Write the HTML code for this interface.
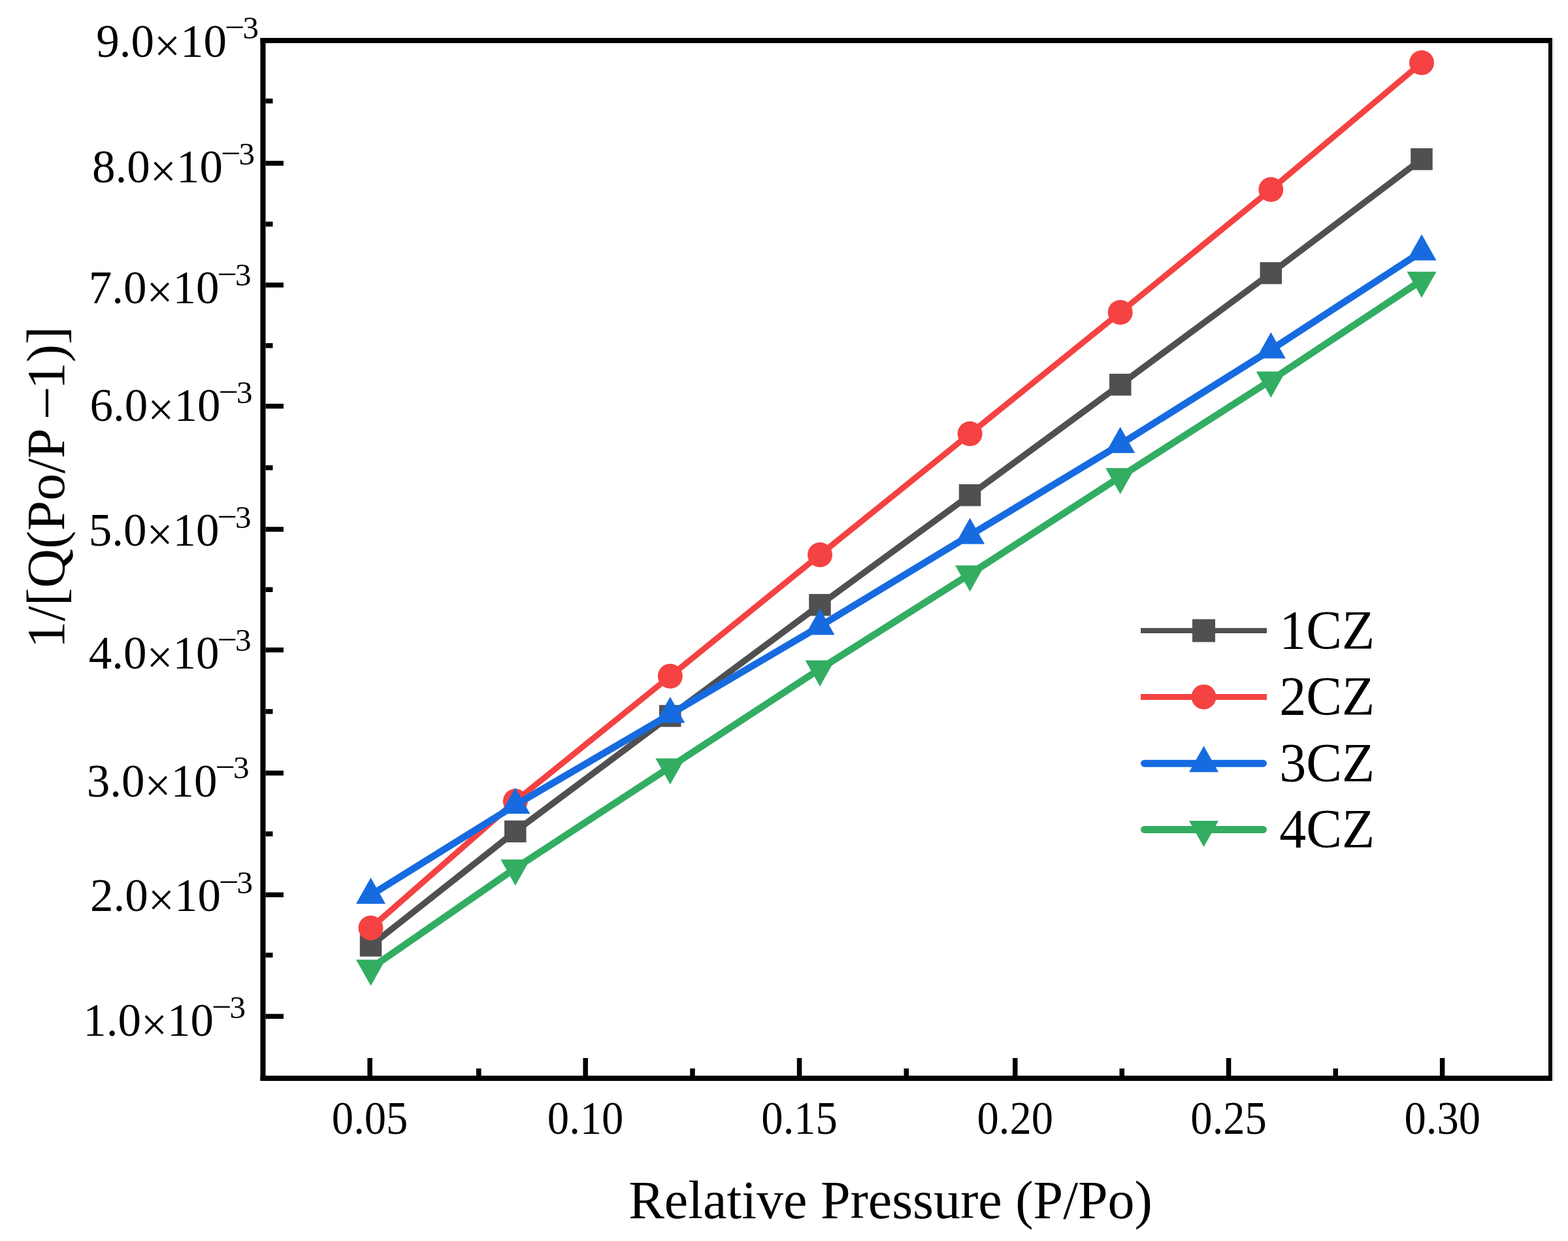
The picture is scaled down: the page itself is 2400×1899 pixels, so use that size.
<!DOCTYPE html><html><head><meta charset="utf-8"><title>BET plot</title><style>html,body{margin:0;padding:0;background:#fff}svg{display:block}text{font-family:"Liberation Serif","Times New Roman",serif;fill:#000}</style></head><body>
<svg width="2400" height="1899" viewBox="0 0 2400 1899">
<rect width="2400" height="1899" fill="#ffffff"/>
<rect x="398.5" y="58" width="1977.5" height="8" fill="#000"/>
<rect x="398.5" y="1646" width="1977.5" height="8" fill="#000"/>
<rect x="398.5" y="58" width="8" height="1596" fill="#000"/>
<rect x="2370" y="58" width="6" height="1596" fill="#000"/>
<rect x="2377" y="58" width="1.6" height="1596" fill="#dddddd"/>
<rect x="562.4" y="1619.0" width="7.5" height="27" fill="#000"/>
<rect x="892.4" y="1619.0" width="7.5" height="27" fill="#000"/>
<rect x="1219.8" y="1619.0" width="7.5" height="27" fill="#000"/>
<rect x="1550.0" y="1619.0" width="7.5" height="27" fill="#000"/>
<rect x="1876.8" y="1619.0" width="7.5" height="27" fill="#000"/>
<rect x="2203.9" y="1619.0" width="7.5" height="27" fill="#000"/>
<rect x="729.0" y="1635.0" width="7.5" height="11" fill="#000"/>
<rect x="1056.2" y="1635.0" width="7.5" height="11" fill="#000"/>
<rect x="1383.5" y="1635.0" width="7.5" height="11" fill="#000"/>
<rect x="1713.5" y="1635.0" width="7.5" height="11" fill="#000"/>
<rect x="2040.5" y="1635.0" width="7.5" height="11" fill="#000"/>
<rect x="406.5" y="246.1" width="27.5" height="7.5" fill="#000"/>
<rect x="406.5" y="432.4" width="27.5" height="7.5" fill="#000"/>
<rect x="406.5" y="617.8" width="27.5" height="7.5" fill="#000"/>
<rect x="406.5" y="806.2" width="27.5" height="7.5" fill="#000"/>
<rect x="406.5" y="990.8" width="27.5" height="7.5" fill="#000"/>
<rect x="406.5" y="1179.2" width="27.5" height="7.5" fill="#000"/>
<rect x="406.5" y="1365.5" width="27.5" height="7.5" fill="#000"/>
<rect x="406.5" y="1551.5" width="27.5" height="7.5" fill="#000"/>
<rect x="406.5" y="150.8" width="11" height="7.5" fill="#000"/>
<rect x="406.5" y="339.2" width="11" height="7.5" fill="#000"/>
<rect x="406.5" y="525.1" width="11" height="7.5" fill="#000"/>
<rect x="406.5" y="712.0" width="11" height="7.5" fill="#000"/>
<rect x="406.5" y="898.5" width="11" height="7.5" fill="#000"/>
<rect x="406.5" y="1085.0" width="11" height="7.5" fill="#000"/>
<rect x="406.5" y="1272.3" width="11" height="7.5" fill="#000"/>
<rect x="406.5" y="1457.8" width="11" height="7.5" fill="#000"/>
<polyline points="567.5,1447.0 788.8,1272.2 1025.8,1095.5 1255.0,925.6 1484.6,757.7 1714.7,588.6 1945.3,418.0 2176.0,243.6" fill="none" stroke="#505050" stroke-width="9.6" stroke-linejoin="round" stroke-linecap="round"/>
<rect x="550.8" y="1430.2" width="33.5" height="33.5" fill="#505050"/>
<rect x="772.0" y="1255.5" width="33.5" height="33.5" fill="#505050"/>
<rect x="1009.0" y="1078.8" width="33.5" height="33.5" fill="#505050"/>
<rect x="1238.2" y="908.9" width="33.5" height="33.5" fill="#505050"/>
<rect x="1467.8" y="741.0" width="33.5" height="33.5" fill="#505050"/>
<rect x="1698.0" y="571.9" width="33.5" height="33.5" fill="#505050"/>
<rect x="1928.5" y="401.2" width="33.5" height="33.5" fill="#505050"/>
<rect x="2159.2" y="226.8" width="33.5" height="33.5" fill="#505050"/>
<polyline points="567.5,1420.0 788.8,1226.0 1025.8,1034.7 1255.0,849.0 1484.6,663.8 1714.7,478.0 1945.3,290.0 2176.0,96.0" fill="none" stroke="#f54242" stroke-width="9.0" stroke-linejoin="round" stroke-linecap="round"/>
<circle cx="567.5" cy="1420.0" r="19" fill="#f54242"/>
<circle cx="788.8" cy="1226.0" r="19" fill="#f54242"/>
<circle cx="1025.8" cy="1034.7" r="19" fill="#f54242"/>
<circle cx="1255.0" cy="849.0" r="19" fill="#f54242"/>
<circle cx="1484.6" cy="663.8" r="19" fill="#f54242"/>
<circle cx="1714.7" cy="478.0" r="19" fill="#f54242"/>
<circle cx="1945.3" cy="290.0" r="19" fill="#f54242"/>
<circle cx="2176.0" cy="96.0" r="19" fill="#f54242"/>
<polyline points="567.5,1369.7 788.8,1231.9 1025.8,1093.0 1255.0,958.2 1484.6,819.1 1714.7,679.9 1945.3,535.2 2176.0,385.2" fill="none" stroke="#166be0" stroke-width="10.5" stroke-linejoin="round" stroke-linecap="round"/>
<polygon points="567.5,1343.0 590.0,1383.0 545.0,1383.0" fill="#166be0"/>
<polygon points="788.8,1205.2 811.3,1245.2 766.3,1245.2" fill="#166be0"/>
<polygon points="1025.8,1066.3 1048.3,1106.3 1003.3,1106.3" fill="#166be0"/>
<polygon points="1255.0,931.5 1277.5,971.5 1232.5,971.5" fill="#166be0"/>
<polygon points="1484.6,792.4 1507.1,832.4 1462.1,832.4" fill="#166be0"/>
<polygon points="1714.7,653.2 1737.2,693.2 1692.2,693.2" fill="#166be0"/>
<polygon points="1945.3,508.5 1967.8,548.5 1922.8,548.5" fill="#166be0"/>
<polygon points="2176.0,358.5 2198.5,398.5 2153.5,398.5" fill="#166be0"/>
<polyline points="567.5,1481.7 788.8,1328.6 1025.8,1173.7 1255.0,1023.7 1484.6,878.5 1714.7,729.6 1945.3,581.8 2176.0,429.0" fill="none" stroke="#32ad62" stroke-width="10.5" stroke-linejoin="round" stroke-linecap="round"/>
<polygon points="545.0,1468.4 590.0,1468.4 567.5,1508.4" fill="#32ad62"/>
<polygon points="766.3,1315.3 811.3,1315.3 788.8,1355.3" fill="#32ad62"/>
<polygon points="1003.3,1160.4 1048.3,1160.4 1025.8,1200.4" fill="#32ad62"/>
<polygon points="1232.5,1010.4 1277.5,1010.4 1255.0,1050.4" fill="#32ad62"/>
<polygon points="1462.1,865.2 1507.1,865.2 1484.6,905.2" fill="#32ad62"/>
<polygon points="1692.2,716.3 1737.2,716.3 1714.7,756.3" fill="#32ad62"/>
<polygon points="1922.8,568.5 1967.8,568.5 1945.3,608.5" fill="#32ad62"/>
<polygon points="2153.5,415.7 2198.5,415.7 2176.0,455.7" fill="#32ad62"/>
<line x1="1746.0" y1="965.0" x2="1939.0" y2="965.0" stroke="#505050" stroke-width="8.2"/>
<rect x="1825.0" y="947.5" width="35" height="35" fill="#505050"/>
<line x1="1746.0" y1="1066.4" x2="1939.0" y2="1066.4" stroke="#f54242" stroke-width="9.0"/>
<circle cx="1842.5" cy="1066.4" r="19" fill="#f54242"/>
<line x1="1751.5" y1="1168.2" x2="1933.5" y2="1168.2" stroke="#166be0" stroke-width="11.0" stroke-linecap="round"/>
<polygon points="1842.5,1141.5 1865.0,1181.5 1820.0,1181.5" fill="#166be0"/>
<line x1="1751.5" y1="1269.4" x2="1933.5" y2="1269.4" stroke="#32ad62" stroke-width="11.0" stroke-linecap="round"/>
<polygon points="1820.0,1256.1 1865.0,1256.1 1842.5,1296.1" fill="#32ad62"/>
<text transform="translate(2104.0,993.0) scale(0.965,1)" font-size="85" text-anchor="end">1CZ</text>
<text transform="translate(2104.0,1094.0) scale(0.965,1)" font-size="85" text-anchor="end">2CZ</text>
<text transform="translate(2104.0,1195.5) scale(0.965,1)" font-size="85" text-anchor="end">3CZ</text>
<text transform="translate(2104.0,1296.5) scale(0.965,1)" font-size="85" text-anchor="end">4CZ</text>
<text transform="translate(566.1,1734.5) scale(0.925,1)" font-size="72" text-anchor="middle">0.05</text>
<text transform="translate(896.1,1734.5) scale(0.925,1)" font-size="72" text-anchor="middle">0.10</text>
<text transform="translate(1223.6,1734.5) scale(0.925,1)" font-size="72" text-anchor="middle">0.15</text>
<text transform="translate(1553.7,1734.5) scale(0.925,1)" font-size="72" text-anchor="middle">0.20</text>
<text transform="translate(1880.6,1734.5) scale(0.925,1)" font-size="72" text-anchor="middle">0.25</text>
<text transform="translate(2207.7,1734.5) scale(0.925,1)" font-size="72" text-anchor="middle">0.30</text>
<text x="396.0" y="86.5" font-size="71" text-anchor="end">9.0<tspan dy="7">×</tspan><tspan dy="-7">10</tspan><tspan font-size="49" dy="-33.5">–</tspan><tspan font-size="49" dy="6">3</tspan></text>
<text x="389.9" y="279.0" font-size="71" text-anchor="end">8.0<tspan dy="7">×</tspan><tspan dy="-7">10</tspan><tspan font-size="49" dy="-33.5">–</tspan><tspan font-size="49" dy="6">3</tspan></text>
<text x="384.6" y="464.0" font-size="71" text-anchor="end">7.0<tspan dy="7">×</tspan><tspan dy="-7">10</tspan><tspan font-size="49" dy="-33.5">–</tspan><tspan font-size="49" dy="6">3</tspan></text>
<text x="386.4" y="644.0" font-size="71" text-anchor="end">6.0<tspan dy="7">×</tspan><tspan dy="-7">10</tspan><tspan font-size="49" dy="-33.5">–</tspan><tspan font-size="49" dy="6">3</tspan></text>
<text x="384.6" y="835.0" font-size="71" text-anchor="end">5.0<tspan dy="7">×</tspan><tspan dy="-7">10</tspan><tspan font-size="49" dy="-33.5">–</tspan><tspan font-size="49" dy="6">3</tspan></text>
<text x="384.6" y="1023.0" font-size="71" text-anchor="end">4.0<tspan dy="7">×</tspan><tspan dy="-7">10</tspan><tspan font-size="49" dy="-33.5">–</tspan><tspan font-size="49" dy="6">3</tspan></text>
<text x="381.6" y="1218.5" font-size="71" text-anchor="end">3.0<tspan dy="7">×</tspan><tspan dy="-7">10</tspan><tspan font-size="49" dy="-33.5">–</tspan><tspan font-size="49" dy="6">3</tspan></text>
<text x="386.9" y="1394.0" font-size="71" text-anchor="end">2.0<tspan dy="7">×</tspan><tspan dy="-7">10</tspan><tspan font-size="49" dy="-33.5">–</tspan><tspan font-size="49" dy="6">3</tspan></text>
<text x="376.0" y="1585.0" font-size="71" text-anchor="end">1.0<tspan dy="7">×</tspan><tspan dy="-7">10</tspan><tspan font-size="49" dy="-33.5">–</tspan><tspan font-size="49" dy="6">3</tspan></text>
<text x="1363" y="1863.5" font-size="82" text-anchor="middle">Relative Pressure (P/Po)</text>
<text transform="translate(97.8,745.6) rotate(-90)" x="0" y="0" font-size="83" text-anchor="middle">1/[Q(Po/P <tspan dy="-7">–</tspan><tspan dy="7">1)]</tspan></text>
</svg></body></html>
